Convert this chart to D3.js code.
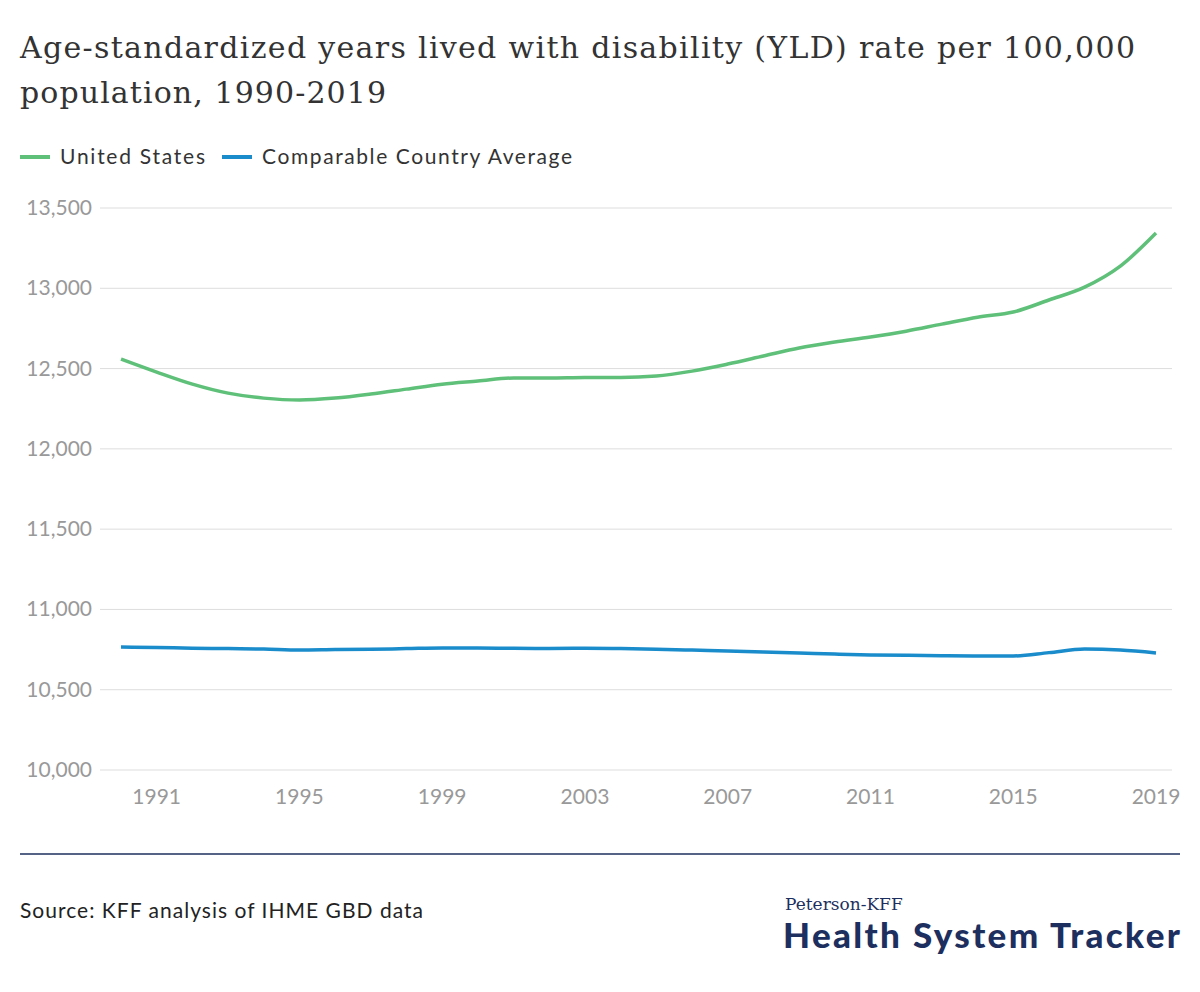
<!DOCTYPE html>
<html><head><meta charset="utf-8">
<script src="https://cdn.jsdelivr.net/npm/d3@7"></script>
<style>body{margin:0;background:#fff}</style>
</head><body><div id="chart"></div>
<script>
const years = d3.range(1990, 2020);
const usValues = [12559,12478,12403,12347,12316,12304,12316,12341,12372,12403,12422,12441,12441,12444,12444,12453,12484,12528,12578,12628,12665,12696,12733,12777,12820,12852,12927,13007,13138,13344];
const compValues = [10766,10763,10758,10756,10753,10747,10750,10752,10756,10760,10760,10758,10757,10758,10756,10752,10747,10741,10735,10729,10722,10716,10714,10712,10710,10710,10731,10753,10747,10729];
const yTicks = [10000,10500,11000,11500,12000,12500,13000,13500];
const xTicks = [1991,1995,1999,2003,2007,2011,2015,2019];

const svg = d3.select('#chart').append('svg').attr('width', 1200).attr('height', 992);
const font = 'Lato, "Open Sans", sans-serif';

svg.append('text').attr('x', 20).attr('y', 58).attr('font-family', '"DejaVu Serif", serif')
  .attr('font-size', 30).attr('fill', '#333').attr('textLength', 1115).text('Age-standardized years lived with disability (YLD) rate per 100,000');
svg.append('text').attr('x', 20).attr('y', 103).attr('font-family', '"DejaVu Serif", serif')
  .attr('font-size', 30).attr('fill', '#333').attr('textLength', 366).text('population, 1990-2019');

const legend = [['United States', '#5fc07a', 20, 145], ['Comparable Country Average', '#1a8ccb', 222, 310]];
legend.forEach(([name, color, x, w]) => {
  svg.append('line').attr('x1', x).attr('x2', x + 30).attr('y1', 157).attr('y2', 157)
    .attr('stroke', color).attr('stroke-width', 4);
  svg.append('text').attr('x', x + 40).attr('y', 164).attr('font-family', font)
    .attr('font-size', 21).attr('textLength', w).attr('fill', '#333').text(name);
});

const x = d3.scaleLinear().domain([1990, 2019]).range([121, 1156]);
const y = d3.scaleLinear().domain([10000, 13500]).range([770, 208]);

svg.append('g').selectAll('line').data(yTicks).enter().append('line')
  .attr('x1', 100).attr('x2', 1172).attr('y1', d => y(d)).attr('y2', d => y(d))
  .attr('stroke', '#ddd').attr('stroke-width', 1);
svg.append('g').selectAll('text').data(yTicks).enter().append('text')
  .attr('x', 92).attr('y', d => y(d) + 7).attr('text-anchor', 'end')
  .attr('font-family', font).attr('font-size', 21).attr('fill', '#999')
  .text(d => d3.format(',')(d));
svg.append('g').selectAll('text').data(xTicks).enter().append('text')
  .attr('x', d => x(d)).attr('y', 804).attr('text-anchor', 'middle')
  .attr('font-family', font).attr('font-size', 21).attr('fill', '#999').text(d => d);

const line = d3.line().x((d, i) => x(years[i])).y(d => y(d)).curve(d3.curveMonotoneX);
svg.append('path').attr('d', line(compValues)).attr('fill', 'none').attr('stroke', '#1a8ccb').attr('stroke-width', 3.5);
svg.append('path').attr('d', line(usValues)).attr('fill', 'none').attr('stroke', '#5fc07a').attr('stroke-width', 3.5);

svg.append('line').attr('x1', 20).attr('x2', 1180).attr('y1', 854).attr('y2', 854)
  .attr('stroke', '#1d2f5e').attr('stroke-width', 1.5);
svg.append('text').attr('x', 20).attr('y', 918).attr('font-family', font)
  .attr('font-size', 21).attr('fill', '#222').attr('textLength', 403).text('Source: KFF analysis of IHME GBD data');
svg.append('text').attr('x', 785).attr('y', 910).attr('font-family', '"DejaVu Serif", serif')
  .attr('font-size', 17).attr('fill', '#1d2f5e').text('Peterson-KFF');
svg.append('text').attr('x', 1180).attr('y', 948).attr('text-anchor', 'end').attr('font-family', font)
  .attr('font-weight', 900).attr('font-size', 35).attr('fill', '#1d2f5e').attr('textLength', 397)
  .text('Health System Tracker');
</script></body></html>
